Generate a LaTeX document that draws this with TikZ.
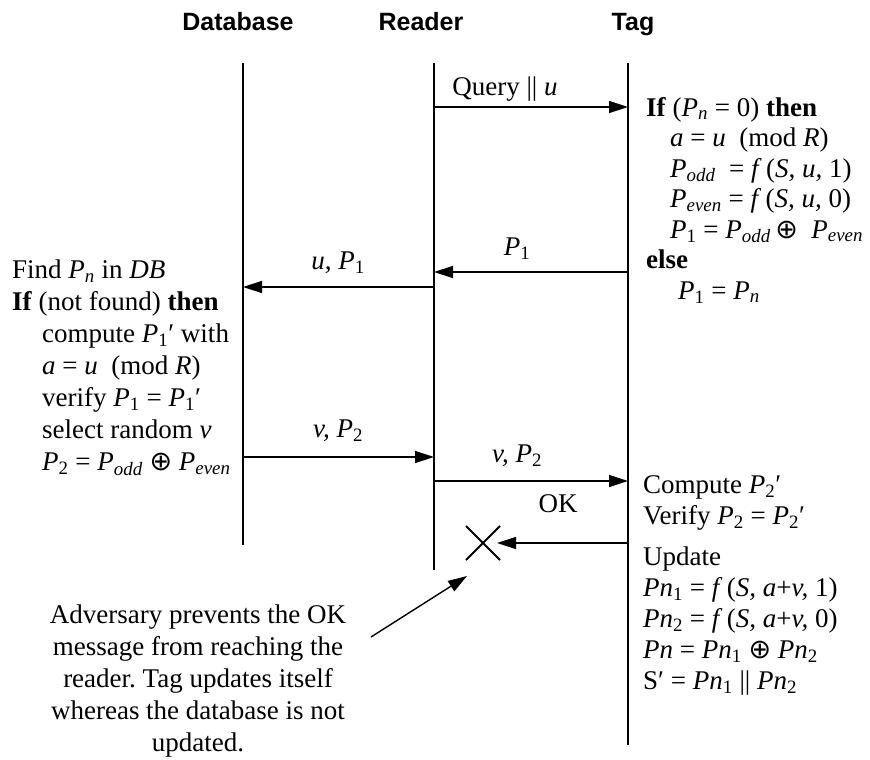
\documentclass[tikz,border=0pt]{standalone}
\usepackage{fontspec}
\setmainfont{Liberation Serif}
\newfontfamily\headfont{Liberation Sans}
\newfontfamily\symfont{DejaVu Sans}
\usetikzlibrary{arrows.meta}
\frenchspacing

\newcommand{\mi}[1]{\textit{#1}}
\newcommand{\ds}[1]{\textsubscript{\textit{#1}}}
\newcommand{\xor}{{\symfont ⊕}}

\begin{document}
\begin{tikzpicture}[x=1pt,y=-1pt,
		lifeline/.style={line width=1.4pt},
		msg/.style={line width=1.4pt, -{Triangle[length=19pt,width=12pt]}},
		lbl/.style={font=\fontsize{27}{31}\selectfont, inner sep=0pt},
		block/.style={font=\fontsize{27}{31}\selectfont, align=left, anchor=north west, inner sep=0pt},
		head/.style={font=\headfont\bfseries\fontsize{25}{30}\selectfont, inner sep=0pt, anchor=base}]
			\def\xDB{243};
			\def\xRD{434};
			\def\xTG{628};
			
			\useasboundingbox (0,0) rectangle (870,760);
			
			% parties
			\node [head] (h-db) at (238,31) {Database};
			\node [head] (h-rd) at (421,31) {Reader};
			\node [head] (h-tg) at (633,31) {Tag};
			
			\begin{scope}[lifeline]
				\draw (\xDB,63) -- (\xDB,545);
				\draw (\xRD,63) -- (\xRD,570);
				\draw (\xTG,63) -- (\xTG,745);
			\end{scope}
			
			% messages
			\begin{scope}[msg]
				\draw (\xRD,107) -- (\xTG,107);
				\draw (\xTG,272) -- (\xRD,272);
				\draw (\xRD,287) -- (\xDB,287);
				\draw (\xDB,457) -- (\xRD,457);
				\draw (\xRD,481) -- (\xTG,481);
			\end{scope}
			
			\node [lbl] (l-query) at (505,89) {Query || \mi{u}};
			\node [lbl] (l-p1) at (517,249) {\mi{P}\textsubscript{1}};
			\node [lbl] (l-up1) at (338,263) {\mi{u,} \mi{P}\textsubscript{1}};
			\node [lbl] (l-vp2a) at (338,431) {\mi{v,} \mi{P}\textsubscript{2}};
			\node [lbl] (l-vp2b) at (517,456) {\mi{v,} \mi{P}\textsubscript{2}};
			\node [lbl] (l-ok) at (558,504) {OK};
			
			% blocked OK
			\coordinate (cut) at (483,543);
			\draw [line width=1.8pt] (cut) +(-17,-17) -- +(17,17) (cut) +(-17,17) -- +(17,-17);
			\draw [msg] (\xTG,543) -- ([xshift=14pt]cut);
			
			% tag side
			\node [block, font=\fontsize{27}{30.5}\selectfont] (tag-init) at (646,97) {%
				\textbf{If} (\mi{P}\ds{n} = 0) \textbf{then}\\
				\hspace*{24pt}\mi{a} = \mi{u}~ (mod \mi{R})\\
				\hspace*{24pt}\mi{P}\ds{odd} ~= \mi{f}\,(\mi{S, u,} 1)\\
				\hspace*{24pt}\mi{P}\ds{even} = \mi{f}\,(\mi{S, u,} 0)\\
				\hspace*{24pt}\mi{P}\textsubscript{1} = \mi{P}\ds{odd}\,\xor\ \ \mi{P}\ds{even}\\
				\textbf{else}\\
				\hspace*{32pt}\mi{P}\textsubscript{1} = \mi{P}\ds{n}};
			\node [block] (tag-check) at (643,475) {%
				Compute \mi{P}\textsubscript{2}′\\
				Verify \mi{P}\textsubscript{2} = \mi{P}\textsubscript{2}′};
			\node [block] (tag-upd) at (643,547) {%
				Update\\
				\mi{Pn}\textsubscript{1} = \mi{f}\,(\mi{S, a}+\mi{v,} 1)\\
				\mi{Pn}\textsubscript{2} = \mi{f}\,(\mi{S, a}+\mi{v,} 0)\\
				\mi{Pn} = \mi{Pn}\textsubscript{1} \xor\ \mi{Pn}\textsubscript{2}\\
				S′ = \mi{Pn}\textsubscript{1} || \mi{Pn}\textsubscript{2}};
			
			% database side
			\node [block, font=\fontsize{27}{32}\selectfont] (db-find) at (12,260) {%
				Find \mi{P}\ds{n} in \mi{DB}\\
				\textbf{If} (not found) \textbf{then}\\
				\hspace*{30pt}compute \mi{P}\textsubscript{1}′ with\\
				\hspace*{30pt}\mi{a} = \mi{u}~ (mod \mi{R})\\
				\hspace*{30pt}verify \mi{P}\textsubscript{1} = \mi{P}\textsubscript{1}′\\
				\hspace*{30pt}select random \mi{v}\\
				\hspace*{30pt}\mi{P}\textsubscript{2} = \mi{P}\ds{odd} \xor\ \mi{P}\ds{even}};
			
			% adversary note
			\node [block, anchor=north, align=center, font=\fontsize{27}{32}\selectfont] (adv) at (198,605) {%
				Adversary prevents the OK\\
				message from reaching the\\
				reader. Tag updates itself\\
				whereas the database is not\\
				updated.};
			\coordinate (adv-tail) at (371,637);
			\coordinate (adv-tip) at (467,576);
			\draw [msg] (adv-tail) -- (adv-tip);
		\end{tikzpicture}
\end{document}
